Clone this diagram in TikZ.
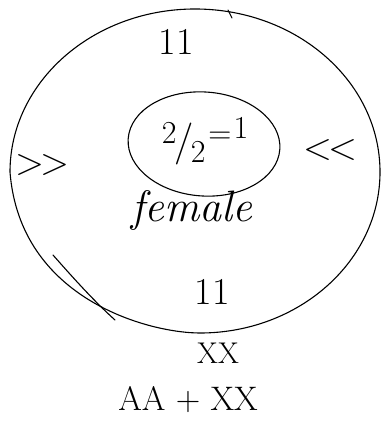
\documentclass[tikz,border=0pt]{standalone}
\usetikzlibrary{shapes.geometric}
\begin{document}
\begin{tikzpicture}[x=1pt,y=-1pt,
  ring/.style={draw,ellipse,line width=1.1pt,inner sep=0pt},
  sym/.style={font=\fontsize{38}{40}\selectfont,inner sep=0pt},
  stroke/.style={line width=1.1pt,line cap=round}]
\useasboundingbox (0,0) rectangle (383,427);
\draw[stroke] (10,172) arc[start angle=180,end angle=0,x radius=185pt,y radius=163pt]
  .. controls (380,261) and (299,333) .. (200,333)
  .. controls (150,333) and (20,300) .. cycle;
\node[ring,minimum width=152pt,minimum height=104pt,rotate=-4] (inner) at (204,144) {};
\node[sym] (top) at (176,42) {11};
\node[font=\fontsize{32}{34}\selectfont,inner sep=0pt] (frac) at (205,141)
  {\raisebox{9pt}{2}\kern-2pt\raisebox{-2pt}{\fontsize{42}{42}\selectfont/}\kern-3pt\raisebox{-10pt}{2}\kern3pt\raisebox{9pt}{=}\kern2pt\raisebox{14pt}{1}};
\node[sym] (left) at (42,165) {>\kern-4pt>};
\node[sym] (right) at (330,150) {<\kern-4pt<};
\node[font=\itshape\fontsize{44}{46}\selectfont,inner sep=0pt] (fem) at (192,210) {female};
\node[sym] (bot) at (212,292) {11};
\node[font=\fontsize{30}{32}\selectfont,inner sep=0pt] (xx) at (218,353) {XX};
\node[font=\fontsize{34}{36}\selectfont,inner sep=0pt] (aa) at (188,400) {AA + XX};
\draw[stroke] (228,10) -- (232,18);
\draw[stroke] (53,255) .. controls (75,280) and (95,302) .. (115,320);
\end{tikzpicture}
\end{document}
